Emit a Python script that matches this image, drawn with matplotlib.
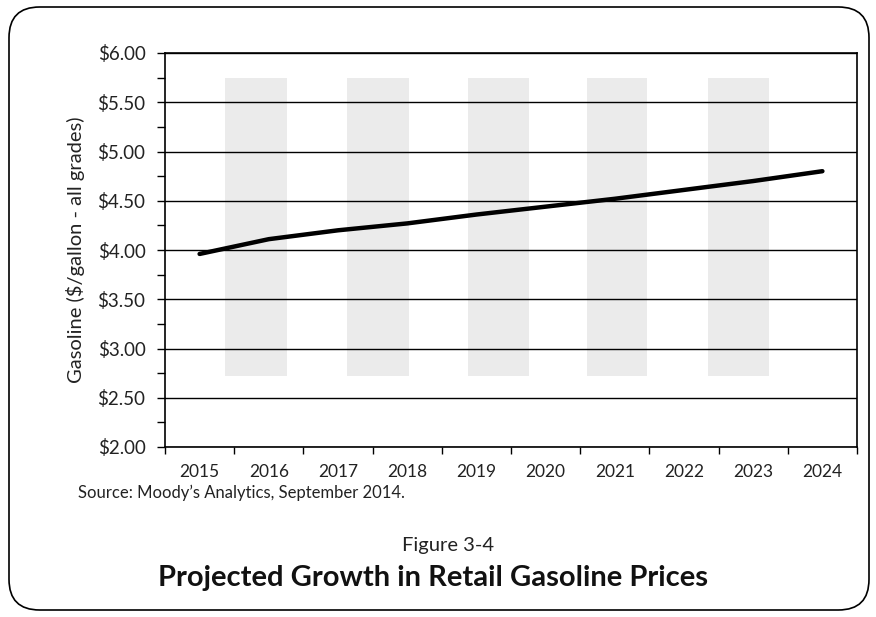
import matplotlib.pyplot as plt
import numpy as np
from matplotlib.patches import FancyBboxPatch
from matplotlib.ticker import MultipleLocator, FuncFormatter

plt.rcParams['font.family'] = ['Lato', 'DejaVu Sans']

years = ['2015', '2016', '2017', '2018', '2019', '2020', '2021', '2022', '2023', '2024']
price = [3.96, 4.11, 4.20, 4.27, 4.36, 4.44, 4.52, 4.61, 4.70, 4.80]

# grey shaded columns (left, right in category units), bottom/top in $
band_left = [0.87, 2.63, 4.38, 6.10, 7.85]
band_right = [1.76, 3.53, 5.26, 6.97, 8.73]
band_bottom = 2.72
band_top = 5.75

fig = plt.figure(figsize=(8.76, 6.17), dpi=100)
ax = fig.add_axes([165 / 876, 1 - 447 / 617, 692 / 876, 394 / 617])

for l, r in zip(band_left, band_right):
    ax.fill_between([l, r], band_bottom, band_top, color='#ebebeb', lw=0, zorder=0)

x = np.arange(len(years)) + 0.5
ax.plot(x, price, color='black', lw=3.2, solid_capstyle='round', zorder=3)

ax.set_xlim(0, len(years))
ax.set_ylim(2, 6)
ax.yaxis.set_major_locator(MultipleLocator(0.5))
ax.yaxis.set_minor_locator(MultipleLocator(0.25))
ax.yaxis.set_major_formatter(FuncFormatter(lambda v, p: '${:.2f}'.format(v)))
ax.grid(axis='y', which='major', color='black', lw=1.0, zorder=1)

ax.set_xticks(np.arange(len(years) + 1))
ax.set_xticklabels([])
ax.set_xticks(x, minor=True)
ax.set_xticklabels(years, minor=True)
ax.tick_params(axis='x', which='major', direction='out', length=5, width=1)
ax.tick_params(axis='x', which='minor', length=0, pad=12, labelsize=12.5, colors='#222222')
ax.tick_params(axis='y', which='major', direction='out', length=6, width=1, labelsize=13.5, pad=8,
               colors='#222222')
ax.tick_params(axis='y', which='minor', direction='out', length=6, width=1)
ax.tick_params(axis='both', color='black')

for s in ax.spines.values():
    s.set_linewidth(1.2)

ax.set_ylabel('Gasoline ($/gallon - all grades)', fontsize=14.5, labelpad=9, color='#222222')

fig.text(78 / 876, 1 - 493 / 617, "Source: Moody’s Analytics, September 2014.", fontsize=12,
         va='center', ha='left', color='#222222')
fig.text(448 / 876, 1 - 546 / 617, 'Figure 3-4', fontsize=14.5, ha='center', va='center', color='#222222')
fig.text(433 / 876, 1 - 578 / 617, 'Projected Growth in Retail Gasoline Prices', fontsize=21,
         fontweight='bold', ha='center', va='center', color='#111111')

frame = FancyBboxPatch((9 / 876, 7 / 617), 860 / 876, 603 / 617,
                       boxstyle='round,pad=0,rounding_size=0.035', transform=fig.transFigure,
                       fill=False, edgecolor='black', lw=1.2, mutation_aspect=876 / 617)
fig.patches.append(frame)

fig.savefig('out.png', dpi=100)
